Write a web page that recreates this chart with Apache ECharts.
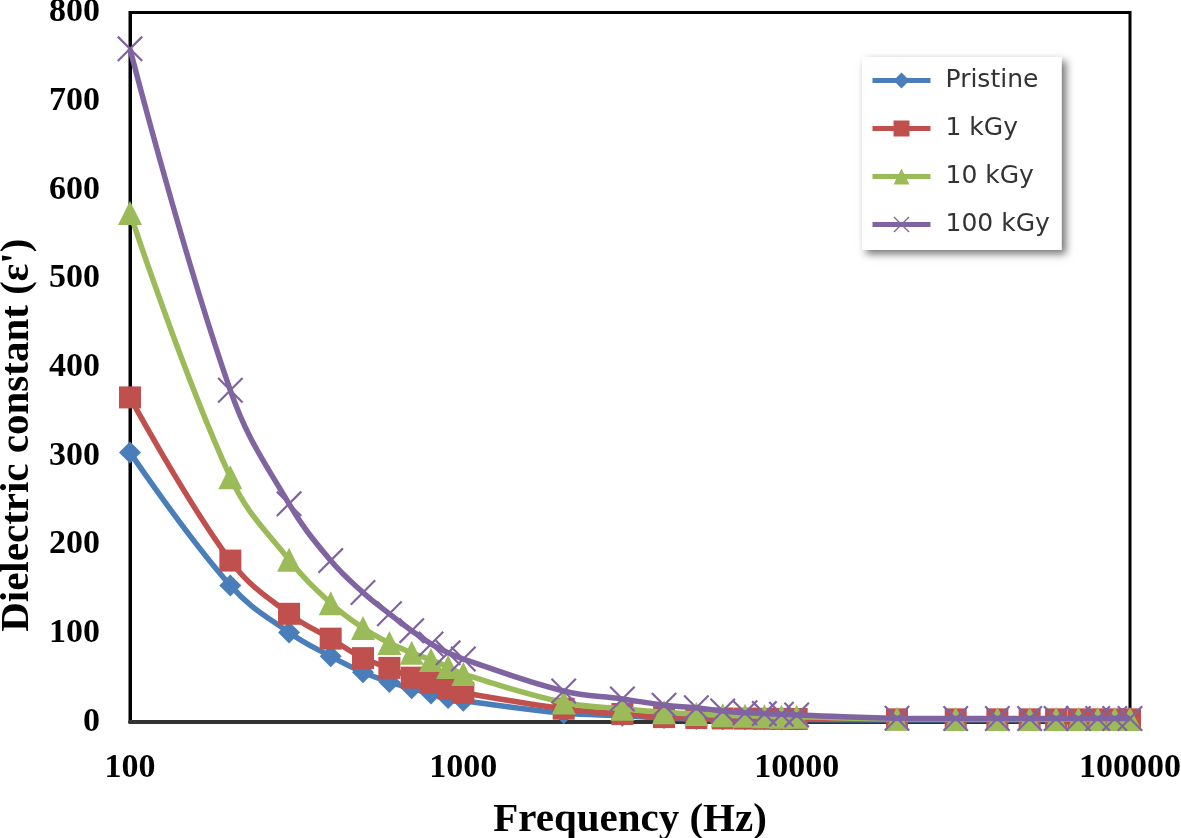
<!DOCTYPE html>
<html>
<head>
<meta charset="utf-8">
<script src="https://cdn.jsdelivr.net/npm/echarts@6/dist/echarts.min.js"></script>
<style>
html,body{margin:0;padding:0;background:#fff;}
#chart{width:1181px;height:838px;}
</style>
</head>
<body>
<div id="chart"></div>
<script>
// Frequencies (Hz)
const frequencies = [100,200,300,400,500,600,700,800,900,1000,
  2000,3000,4000,5000,6000,7000,8000,9000,10000,
  20000,30000,40000,50000,60000,70000,80000,90000,100000];

const pristine = [304,154,101,74,56,45,38,32,27,24,
  10,7,4.5,3.5,3.2,3,3,2.8,2.8,
  2.5,2.5,2.5,2.5,2.5,2.5,2.5,2.5,2.5];
const kGy1 = [366,182,122,94,72,61,50,44,38,33,
  15,9,5.5,4.5,4,3.8,3.6,3.5,3.4,
  3,3,3,3,3,3,3,3,3];
const kGy10 = [574,276,183,134,106,89,78,70,62,54,
  22,15,11,9,7.5,7,6.5,6,5.8,
  3.6,3.5,3.5,3.5,3.5,3.5,3.5,3.5,3.5];
const kGy100 = [759,374,246,182,146,122,103,88,78,71,
  35,26,19,16,12.5,10.5,9.5,8.8,8,
  4.2,4,4,4,4,4,4,4,4];

const seriesNames = ['Pristine','1 kGy','10 kGy','100 kGy'];
const xTickLabels = ['100','1000','10000','100000'];
const yTickLabels = ['0','100','200','300','400','500','600','700','800'];

const colors = ['#4A7EBB','#C0504D','#9BBB59','#8064A2'];
const symbols = ['diamond','rect','triangle',
  'path://M0,1.2L1.2,0L20,18.8L18.8,20ZM18.8,0L20,1.2L1.2,20L0,18.8Z'];
const symbolSizes = [22,22,24,26];
const allData = [pristine,kGy1,kGy10,kGy100];

const serif = "'Liberation Serif','Times New Roman',serif";

const chart = echarts.init(document.getElementById('chart'));
chart.setOption({
  animation:false,
  backgroundColor:'#fff',
  grid:{left:130,right:51,top:12.5,bottom:116,containLabel:false,outerBoundsMode:'none',
    show:true,borderColor:'#000',borderWidth:3,backgroundColor:'transparent'},
  legend:{
    orient:'vertical',
    left:862, top:57,
    padding:[11,12,13,8],
    itemWidth:58, itemHeight:20, itemGap:23,
    backgroundColor:'#fff',
    shadowColor:'rgba(0,0,0,0.55)', shadowBlur:8, shadowOffsetX:4, shadowOffsetY:4,
    lineStyle:{width:5},
    textStyle:{fontFamily:"'DejaVu Sans',sans-serif",fontSize:25,color:'#333',padding:[0,0,0,10]},
    data:seriesNames
  },
  xAxis:{
    type:'log', logBase:10, min:100, max:100000,
    name:'Frequency (Hz)', nameLocation:'middle', nameGap:78,
    nameTextStyle:{fontFamily:serif,fontWeight:'bold',fontSize:41,color:'#000'},
    axisLine:{show:true,lineStyle:{color:'#333',width:4}},
    axisTick:{show:false},
    splitLine:{show:false},
    minorTick:{show:false},
    axisLabel:{margin:29,fontFamily:serif,fontWeight:'bold',fontSize:34,color:'#000',
      formatter:function(v){const s=String(Math.round(v));return xTickLabels.indexOf(s)>=0?s:'';}}
  },
  yAxis:{
    type:'value', min:0, max:800, interval:100,
    name:"Dielectric constant (\u03b5')", nameLocation:'middle', nameGap:88,
    nameTextStyle:{fontFamily:serif,fontWeight:'bold',fontSize:41,color:'#000',padding:[0,136,0,0]},
    axisLine:{show:true,lineStyle:{color:'#000',width:3}},
    axisTick:{show:false},
    splitLine:{show:false},
    axisLabel:{margin:30,fontFamily:serif,fontWeight:'bold',fontSize:34,color:'#000',
      formatter:function(v){const s=String(Math.round(v));return yTickLabels.indexOf(s)>=0?s:'';}}
  },
  series:seriesNames.map(function(name,i){
    return {
      name:name, type:'line', smooth:0.4,
      data:frequencies.map(function(f,j){return [f,allData[i][j]];}),
      symbol:symbols[i], symbolSize:symbolSizes[i], showAllSymbol:true,
      lineStyle:{color:colors[i],width:5.5},
      itemStyle:{color:colors[i]},
      z:2+i
    };
  })
});
</script>
</body>
</html>
